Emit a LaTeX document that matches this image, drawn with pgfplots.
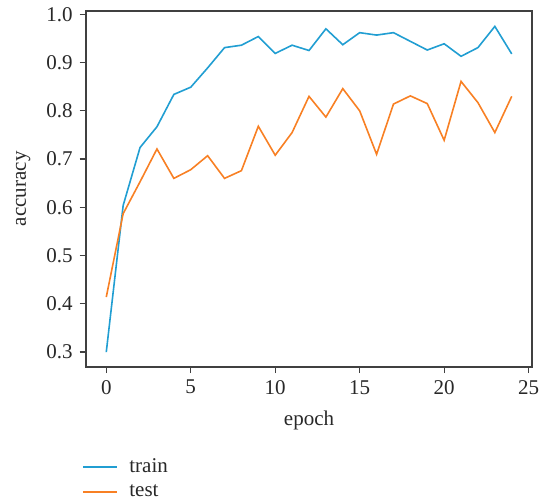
\documentclass[border=0pt]{standalone}
\usepackage{fontspec}
\setmainfont{Liberation Serif}
\usepackage{pgfplots}
\pgfplotsset{compat=1.18}
\definecolor{trainc}{RGB}{33,158,210}
\definecolor{testc}{RGB}{248,128,36}
\definecolor{axc}{RGB}{64,64,64}
\definecolor{txc}{RGB}{40,40,40}
\begin{document}
\begin{tikzpicture}
\begin{axis}[
  scale only axis,
  width=223pt, height=178pt,
  xmin=-1.2, xmax=25.2,
  ymin=0.2697, ymax=1.0075,
  xtick={0,5,10,15,20,25},
  ytick={0.3,0.4,0.5,0.6,0.7,0.8,0.9,1.0},
  yticklabel style={/pgf/number format/.cd,fixed,fixed zerofill,precision=1},
  /pgf/number format/assume math mode=true,
  tick align=outside,
  major tick length=3.2pt,
  tick style={axc, line width=0.6pt},
  axis line style={axc, line width=0.8pt},
  xtick pos=bottom, ytick pos=left,
  every tick label/.append style={font=\fontsize{10.5}{12}\selectfont, text=txc},
  xlabel={epoch}, ylabel={accuracy},
  label style={font=\fontsize{10.5}{12}\selectfont, text=txc},
  xlabel style={at={(axis description cs:0.5,-0.15)}, anchor=center},
  ylabel style={at={(axis description cs:-0.141,0.5)}, anchor=center},
  legend style={at={(axis description cs:-0.022,-0.235)}, anchor=north west, draw=none, fill=none,
    font=\fontsize{10.5}{12}\selectfont, text=txc, row sep=0.6pt},
  legend cell align=left,
  legend image code/.code={\draw[#1] (0pt,0pt) -- (17pt,0pt); \path[draw=none,fill=none] (0pt,0pt) -- (21pt,0pt);},
]
\addplot[trainc, line width=0.8pt] coordinates {
(0,0.300) (1,0.604) (2,0.724) (3,0.767) (4,0.834) (5,0.849) (6,0.889) (7,0.931)
(8,0.936) (9,0.954) (10,0.919) (11,0.936) (12,0.925) (13,0.970) (14,0.937)
(15,0.962) (16,0.957) (17,0.962) (18,0.944) (19,0.926) (20,0.939) (21,0.913)
(22,0.931) (23,0.975) (24,0.918)};
\addlegendentry{train}
\addplot[testc, line width=0.8pt] coordinates {
(0,0.414) (1,0.587) (2,0.653) (3,0.721) (4,0.660) (5,0.678) (6,0.707) (7,0.660)
(8,0.676) (9,0.768) (10,0.708) (11,0.755) (12,0.830) (13,0.787) (14,0.846)
(15,0.800) (16,0.710) (17,0.814) (18,0.831) (19,0.815) (20,0.739) (21,0.861)
(22,0.817) (23,0.755) (24,0.830)};
\addlegendentry{test}
\end{axis}
\pgfresetboundingbox
\useasboundingbox (-43pt,-66.65pt) rectangle (227pt,183.35pt);
\end{tikzpicture}
\end{document}
